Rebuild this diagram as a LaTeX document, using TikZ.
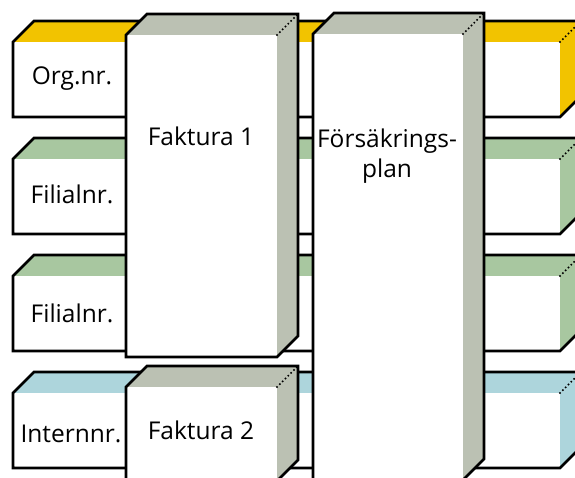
\documentclass[tikz,border=0pt]{standalone}
\usepackage{fontspec}
\setmainfont{Open Sans}

\definecolor{orgyellow}{RGB}{242,195,0}
\definecolor{filgreen}{RGB}{168,199,160}
\definecolor{intblue}{RGB}{173,213,220}
\definecolor{docgray}{RGB}{187,193,179}

% block: x, front top, width, front bottom, depth, colour
\newcommand{\block}[6]{%
  \fill[#6] (#1,#2) -- (#1+#5,#2-#5) -- (#1+#3+#5,#2-#5) -- (#1+#3+#5,#4-#5)
    -- (#1+#3,#4) -- (#1+#3,#2) -- cycle;
  \fill[white] (#1,#2) rectangle (#1+#3,#4);
  \draw[hidden edge] (#1+#3,#2) -- (#1+#3+#5,#2-#5);
  \draw[outline] (#1,#2) -- (#1+#5,#2-#5) -- (#1+#3+#5,#2-#5) -- (#1+#3+#5,#4-#5)
    -- (#1+#3,#4) -- (#1,#4) -- cycle;
}

\begin{document}
\begin{tikzpicture}[x=1pt,y=-1pt,
    outline/.style={line width=2.6pt},
    hidden edge/.style={line width=2.2pt,line cap=round,dash pattern=on 0pt off 4pt},
    label/.style={font=\fontsize{24.5}{30}\selectfont,anchor=base,align=center}]
		\useasboundingbox (0,0) rectangle (575,477);
		\clip (0,0) rectangle (575,477);
		% rows
		\block{13}{42}{547}{117}{21}{orgyellow}
		\block{13}{159}{547}{234}{21}{filgreen}
		\block{13}{276}{547}{351}{21}{filgreen}
		\block{13}{393}{547}{468}{21}{intblue}
		\node[label] (orgnr) at (72,84) {Org.nr.};
		\node[label] (filial1) at (72,203) {Filialnr.};
		\node[label] (filial2) at (72,322) {Filialnr.};
		\node[label] (internnr) at (71,442) {Internnr.};
		% invoices
		\block{126}{35}{151}{357}{21}{docgray}
		\block{126}{387}{151}{481}{21}{docgray}
		\node[label] (faktura1) at (201,145) {Faktura 1};
		\node[label] (faktura2) at (201,439) {Faktura 2};
		% insurance plan
		\block{313}{34}{150}{480}{21}{docgray}
		\node[label] (plan) at (387,177) {Försäkrings-\\plan};
	\end{tikzpicture}
\end{document}
